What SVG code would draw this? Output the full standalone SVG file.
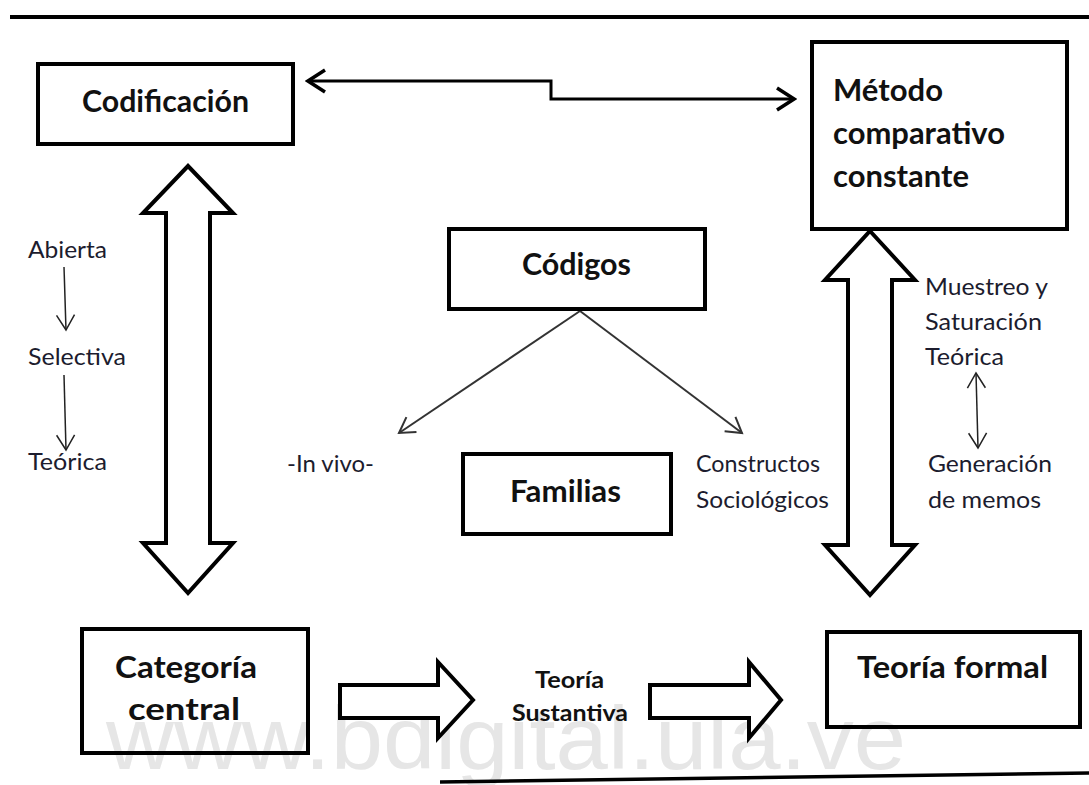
<svg xmlns="http://www.w3.org/2000/svg" width="1089" height="785" viewBox="0 0 1089 785">
<defs>
<style>
.box{fill:none;stroke:#000;stroke-width:4}
.big{fill:#fff;stroke:#000;stroke-width:4;stroke-linejoin:miter}
.tb{font-family:Lato,"Open Sans",sans-serif;font-weight:bold;font-size:31px;fill:#111}
.tr{font-family:Lato,"Open Sans",sans-serif;font-size:24px;fill:#1c1c2e}
.ts{font-family:Lato,"Open Sans",sans-serif;font-weight:bold;font-size:23px;fill:#111}
.wm{font-family:"Liberation Sans",Arial,sans-serif;font-size:89px;fill:#e6e6e6}
</style>
<marker id="vTop" markerUnits="userSpaceOnUse" markerWidth="22" markerHeight="26" refX="19" refY="13" orient="auto-start-reverse">
<path d="M2,2 L19,13 L2,24" fill="none" stroke="#000" stroke-width="3.5"/>
</marker>
<marker id="vCod" markerUnits="userSpaceOnUse" markerWidth="20" markerHeight="24" refX="17" refY="12" orient="auto-start-reverse">
<path d="M2,3 L17,12 L2,21" fill="none" stroke="#333" stroke-width="2"/>
</marker>
<marker id="vThin" markerUnits="userSpaceOnUse" markerWidth="18" markerHeight="22" refX="16" refY="11" orient="auto-start-reverse">
<path d="M1,2 L16,11 L1,20" fill="none" stroke="#222" stroke-width="1.5"/>
</marker>
</defs>
<rect width="1089" height="785" fill="#fff"/>
<text class="wm" x="106" y="769" textLength="800" lengthAdjust="spacingAndGlyphs">www.bdigital.ula.ve</text>
<line x1="10" y1="17" x2="1089" y2="17" stroke="#000" stroke-width="4"/>
<line x1="440" y1="782" x2="1089" y2="773" stroke="#000" stroke-width="3.5"/>

<g id="connectors">
<polyline points="308,81 551,81 551,99 794,99" fill="none" stroke="#000" stroke-width="3" marker-start="url(#vTop)" marker-end="url(#vTop)"/>
<polygon class="big" points="188,166 233,213 210,213 210,543 233,543 188,593 143,543 166,543 166,213 143,213"/>
<polygon class="big" points="870,231 915,280 892,280 892,545 915,545 870,595 825,545 848,545 848,280 825,280"/>
<polygon class="big" points="340,685 438,685 438,662 473,700 438,738 438,718 340,718"/>
<polygon class="big" points="650,685 749,685 749,662 781,700 749,738 749,718 650,718"/>
<line x1="580" y1="311" x2="399" y2="433" stroke="#333" stroke-width="2" marker-end="url(#vCod)"/>
<line x1="580" y1="311" x2="742" y2="433" stroke="#333" stroke-width="2" marker-end="url(#vCod)"/>
<line x1="64" y1="267" x2="66" y2="330" stroke="#222" stroke-width="1.5" marker-end="url(#vThin)"/>
<line x1="64" y1="375" x2="66" y2="450" stroke="#222" stroke-width="1.5" marker-end="url(#vThin)"/>
<line x1="976" y1="373" x2="978" y2="448" stroke="#222" stroke-width="1.5" marker-start="url(#vThin)" marker-end="url(#vThin)"/>
</g>

<g id="codificacion">
<rect class="box" x="38" y="64" width="255" height="80"/>
<text class="tb" x="82" y="112" textLength="167" lengthAdjust="spacingAndGlyphs">Codificación</text>
</g>
<g id="metodo">
<rect class="box" x="812" y="42" width="255" height="187"/>
<text class="tb" x="833" y="101" textLength="110" lengthAdjust="spacingAndGlyphs">Método</text>
<text class="tb" x="833" y="144" textLength="172" lengthAdjust="spacingAndGlyphs">comparativo</text>
<text class="tb" x="833" y="187" textLength="136" lengthAdjust="spacingAndGlyphs">constante</text>
</g>
<g id="codigos">
<rect class="box" x="449" y="229" width="256" height="80"/>
<text class="tb" x="522" y="275" textLength="109" lengthAdjust="spacingAndGlyphs">Códigos</text>
</g>
<g id="familias">
<rect class="box" x="463" y="454" width="208" height="80"/>
<text class="tb" x="510" y="502" textLength="111" lengthAdjust="spacingAndGlyphs">Familias</text>
</g>
<g id="categoria">
<rect class="box" x="82" y="629" width="226" height="124"/>
<text class="tb" x="115" y="678" textLength="142" lengthAdjust="spacingAndGlyphs">Categoría</text>
<text class="tb" x="128" y="720" textLength="112" lengthAdjust="spacingAndGlyphs">central</text>
</g>
<g id="teoria-formal">
<rect class="box" x="827" y="632" width="253" height="95"/>
<text class="tb" x="857" y="678" textLength="191" lengthAdjust="spacingAndGlyphs">Teoría formal</text>
</g>
<g id="teoria-sustantiva">
<text class="ts" x="535" y="688" textLength="69" lengthAdjust="spacingAndGlyphs">Teoría</text>
<text class="ts" x="512" y="721" textLength="116" lengthAdjust="spacingAndGlyphs">Sustantiva</text>
</g>
<g id="tipos-codificacion">
<text class="tr" x="28" y="258" textLength="79" lengthAdjust="spacingAndGlyphs">Abierta</text>
<text class="tr" x="28" y="365" textLength="98" lengthAdjust="spacingAndGlyphs">Selectiva</text>
<text class="tr" x="28" y="470" textLength="79" lengthAdjust="spacingAndGlyphs">Teórica</text>
</g>
<g id="in-vivo">
<text class="tr" x="287" y="472" textLength="87" lengthAdjust="spacingAndGlyphs">-In vivo-</text>
</g>
<g id="constructos">
<text class="tr" x="696" y="472" textLength="124" lengthAdjust="spacingAndGlyphs">Constructos</text>
<text class="tr" x="696" y="508" textLength="133" lengthAdjust="spacingAndGlyphs">Sociológicos</text>
</g>
<g id="muestreo">
<text class="tr" x="925" y="295" textLength="123" lengthAdjust="spacingAndGlyphs">Muestreo y</text>
<text class="tr" x="925" y="330" textLength="117" lengthAdjust="spacingAndGlyphs">Saturación</text>
<text class="tr" x="925" y="365" textLength="79" lengthAdjust="spacingAndGlyphs">Teórica</text>
</g>
<g id="memos">
<text class="tr" x="928" y="472" textLength="124" lengthAdjust="spacingAndGlyphs">Generación</text>
<text class="tr" x="928" y="508" textLength="113" lengthAdjust="spacingAndGlyphs">de memos</text>
</g>
</svg>
